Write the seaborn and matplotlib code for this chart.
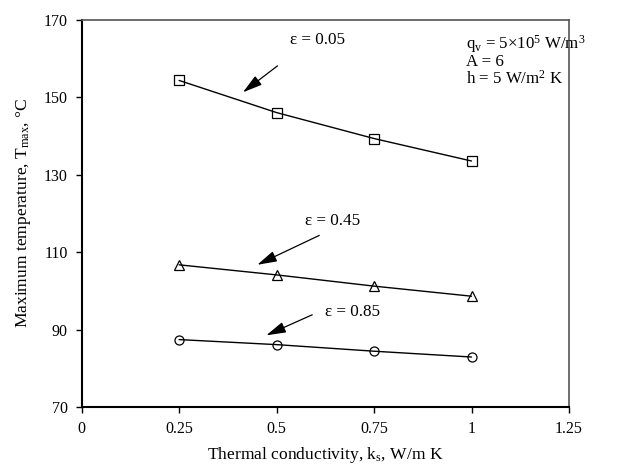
import pandas as pd
import matplotlib
matplotlib.use("Agg")
import matplotlib.pyplot as plt
import seaborn as sns

# datos
k_s = [0.25, 0.5, 0.75, 1.0]
t_eps_005 = [154.3, 146.0, 139.3, 133.5]
t_eps_045 = [106.7, 104.1, 101.2, 98.6]
t_eps_085 = [87.4, 86.1, 84.4, 82.9]
series_labels = ["ε = 0.05", "ε = 0.45", "ε = 0.85"]
markers = ["s", "^", "o"]

x_ticks = [0, 0.25, 0.5, 0.75, 1, 1.25]
x_tick_labels = ["0", "0.25", "0.5", "0.75", "1", "1.25"]
y_ticks = [70, 90, 110, 130, 150, 170]

sns.set_theme(style="ticks")
plt.rcParams["font.family"] = ["Liberation Serif", "DejaVu Serif"]
plt.rcParams["mathtext.fontset"] = "custom"
plt.rcParams["mathtext.rm"] = "Liberation Serif"
plt.rcParams["mathtext.it"] = "Liberation Serif:italic"
plt.rcParams["text.color"] = "black"
plt.rcParams["axes.labelcolor"] = "black"

fig = plt.figure(figsize=(6.28, 4.67), dpi=100)
ax = fig.add_axes([0.130, 0.1285, 0.776, 0.8295])

for vals, mk in zip([t_eps_005, t_eps_045, t_eps_085], markers):
    df = pd.DataFrame({"k": k_s, "T": vals})
    sns.lineplot(data=df, x="k", y="T", ax=ax, color="black", linewidth=1.0,
                 marker=mk, markersize=6.5, markerfacecolor="none",
                 markeredgecolor="black", markeredgewidth=0.9)

# etiquetas con flechas
arrow = dict(arrowstyle="-|>,head_length=1.0,head_width=0.28", color="black", lw=0.9)
ax.annotate("", xy=(0.408, 150.8), xytext=(0.508, 158.5), arrowprops=arrow)
ax.text(0.606, 164.7, series_labels[0], ha="center", va="center", fontsize=12.3)
ax.annotate("", xy=(0.444, 106.4), xytext=(0.616, 114.6), arrowprops=arrow)
ax.text(0.644, 118.0, series_labels[1], ha="center", va="center", fontsize=12.3)
ax.annotate("", xy=(0.467, 88.2), xytext=(0.598, 94.1), arrowprops=arrow)
ax.text(0.696, 94.6, series_labels[2], ha="center", va="center", fontsize=12.3)

info = ("q$_\\mathrm{v}$ = 5×10$^5$ W/m$^3$\n"
        "A = 6\n"
        "h = 5 W/m$^2$ K")
ax.text(0.985, 166.5, info, ha="left", va="top", fontsize=12.2, linespacing=0.95)

ax.set_xlim(0, 1.25)
ax.set_ylim(70, 170)
ax.set_xticks(x_ticks)
ax.set_xticklabels(x_tick_labels)
ax.set_yticks(y_ticks)
ax.tick_params(axis="both", direction="out", length=4, width=1, labelsize=11.5,
               colors="black", pad=6)
ax.set_xlabel("Thermal conductivity, k$_\\mathrm{s}$, W/m K", fontsize=12.6, labelpad=6)
ax.set_ylabel("Maximum temperature, T$_\\mathrm{max}$, °C", fontsize=12.6, labelpad=8)

for side in ["top", "right"]:
    ax.spines[side].set_visible(True)
    ax.spines[side].set_color("#555555")
    ax.spines[side].set_linewidth(1.2)
for side in ["left", "bottom"]:
    ax.spines[side].set_color("black")
    ax.spines[side].set_linewidth(1.5)

fig.savefig("out.png", dpi=100)
